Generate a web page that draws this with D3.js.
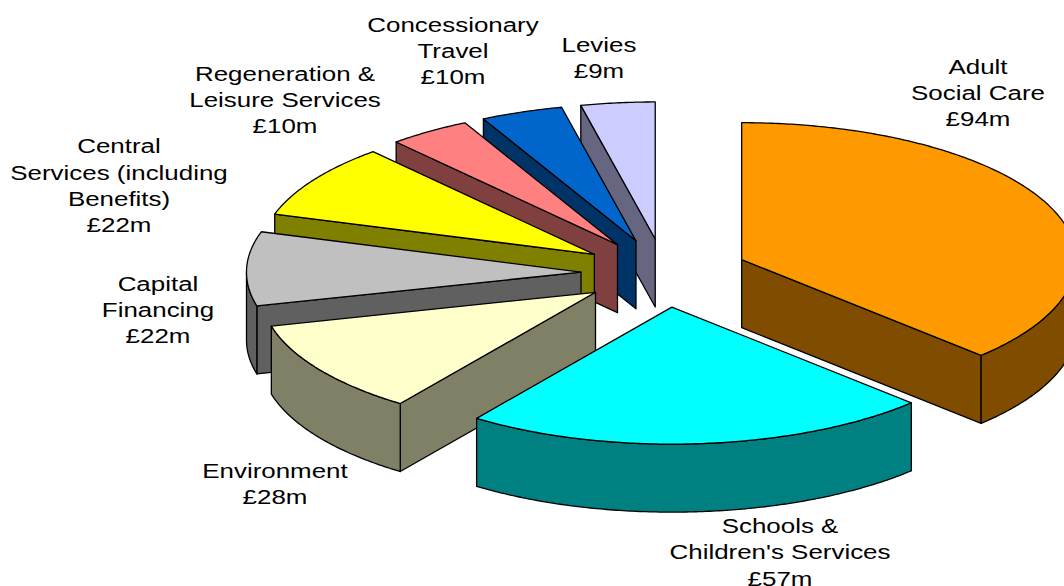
<!DOCTYPE html>
<html>
<head>
<meta charset="utf-8">
<style>
html, body { margin: 0; padding: 0; background: #fff; overflow: hidden; }
svg { display: block; }
text { font-family: "Liberation Sans", Arial, sans-serif; fill: #000; }
</style>
</head>
<body>
<svg id="chart" width="1064" height="586"></svg>
<script src="https://cdn.jsdelivr.net/npm/d3@7/dist/d3.min.js"></script>
<script>
// Budget split, in £ millions, clockwise from twelve o'clock.
const categories = ["Adult Social Care", "Schools & Children's Services", "Environment", "Capital Financing", "Central Services (including Benefits)", "Regeneration & Leisure Services", "Concessionary Travel", "Levies"];
const values = [94, 57, 28, 22, 22, 10, 10, 9];
const labelLines = [
  ["Adult", "Social Care", "£94m"],
  ["Schools &", "Children's Services", "£57m"],
  ["Environment", "£28m"],
  ["Capital", "Financing", "£22m"],
  ["Central", "Services (including", "Benefits)", "£22m"],
  ["Regeneration &", "Leisure Services", "£10m"],
  ["Concessionary", "Travel", "£10m"],
  ["Levies", "£9m"]
];
const topColors = ["#FF9900", "#00FFFF", "#FFFFCC", "#C0C0C0", "#FFFF00", "#FF8080", "#0066CC", "#CCCCFF"];
const sideColors = ["#804D00", "#008080", "#808066", "#606060", "#808000", "#804040", "#003366", "#666680"];

// Layout of the tilted pie and the centre of each label block.
const pieCenter = { x: 664.6, y: 273 };
const radiusX = 334.5, radiusY = 137, depth = 68, explode = 0.25;
const labelCenters = [[978, 66.7], [780, 526], [275, 470.7], [158, 283.7], [119, 146.5], [285, 73.7], [453, 24.7], [599, 44.7]];
const lineStep = 26.3, fontSize = 21, textStretch = 1.235;

const svg = d3.select("#chart");
const arcs = d3.pie().sort(null).value(d => d)(values);

// Maps pie angle and unit radius to the screen ellipse.
const projX = d3.scaleLinear().domain([-1, 1]).range([-radiusX, radiusX]);
const projY = d3.scaleLinear().domain([-1, 1]).range([-radiusY, radiusY]);
const point = (origin, angle, r = 1, drop = 0) => [
  origin.x + projX(r * Math.sin(angle)),
  origin.y + projY(-r * Math.cos(angle)) + drop
];

function arcPoints(origin, a0, a1, drop) {
  const steps = Math.max(2, Math.ceil((a1 - a0) / 0.01));
  return d3.range(steps + 1).map(i => point(origin, a0 + (a1 - a0) * i / steps, 1, drop));
}

const line = d3.line();

// Nearest slices last, so they overlap the ones behind them.
d3.range(arcs.length).reverse().forEach(i => {
  const { startAngle: a0, endAngle: a1 } = arcs[i];
  const mid = (a0 + a1) / 2;
  const origin = {
    x: pieCenter.x + projX(explode * Math.sin(mid)),
    y: pieCenter.y + projY(-explode * Math.cos(mid))
  };
  const g = svg.append("g").attr("class", "slice").attr("stroke", "#000").attr("stroke-width", 1.3).attr("stroke-linejoin", "round");

  const radialFace = angle => {
    const c = point(origin, angle, 0), e = point(origin, angle);
    g.append("path").attr("fill", sideColors[i]).attr("d", line([c, e, [e[0], e[1] + depth], [c[0], c[1] + depth]]) + "Z");
  };
  if (Math.sin(a0) < -1e-6) radialFace(a0);
  if (Math.sin(a1) > 1e-6) radialFace(a1);

  // Outer wall covers only the part of the rim that faces the viewer.
  const w0 = Math.max(a0, Math.PI / 2), w1 = Math.min(a1, Math.PI * 1.5);
  if (w1 > w0) {
    const upper = arcPoints(origin, w0, w1, 0);
    const lower = arcPoints(origin, w0, w1, depth).reverse();
    g.append("path").attr("fill", sideColors[i]).attr("d", line(upper.concat(lower)) + "Z");
  }

  const top = [point(origin, a0, 0)].concat(arcPoints(origin, a0, a1, 0));
  g.append("path").attr("fill", topColors[i]).attr("d", line(top) + "Z");
});

labelLines.forEach((lines, i) => {
  const [cx, cy] = labelCenters[i];
  svg.append("text")
    .attr("text-anchor", "middle")
    .attr("font-size", fontSize)
    .attr("transform", `translate(${cx},0) scale(${textStretch},1)`)
    .selectAll("tspan")
    .data(lines)
    .join("tspan")
    .attr("x", 0)
    .attr("y", (d, k) => cy + 7 + k * lineStep)
    .text(d => d);
});
</script>
</body>
</html>
